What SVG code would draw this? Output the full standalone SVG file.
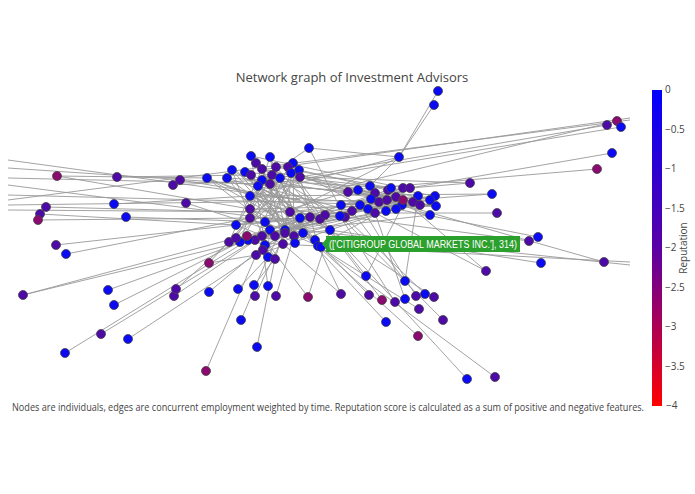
<svg xmlns="http://www.w3.org/2000/svg" width="695" height="494" viewBox="0 0 695 494">
<defs>
<linearGradient id="cb" x1="0" y1="0" x2="0" y2="1"><stop offset="0" stop-color="#0000ff"/><stop offset="0.5" stop-color="#5a00a5"/><stop offset="1" stop-color="#ff0000"/></linearGradient>
</defs>
<style>
.e{stroke:#999;stroke-width:0.9;fill:none}
.b{fill:#0a0af5;stroke:#444;stroke-width:0.8}
.p{fill:#4e0aa8;stroke:#444;stroke-width:0.8}
.m{fill:#8a0a70;stroke:#444;stroke-width:0.8}
text{font-family:"Open Sans","Liberation Sans",sans-serif}
.t{font-size:10px;fill:#444}
.h{font-family:"Liberation Sans",Arial,sans-serif;font-size:10px;fill:#fff}
</style>
<rect width="695" height="494" fill="#fff"/>
<text x="352" y="82" text-anchor="middle" font-size="13" fill="#444">Network graph of Investment Advisors</text>
<g id="edges" class="e">
<path d="M438 91L399 157M434 105L399 157M399 157L309 148M399 157L290 212M399 157L370 186M399 157L250 196M607 125L300 177M617 121L330 190M621 127L258 186M630 120L8 200M630 118L260 170M612 153L410 188M597 169L350 190M630 265L300 230M630 262L240 242M604 262L403 205M8 160L300 200M8 168L410 195M8 205L390 200M8 210L290 212M8 178L270 184M8 195L436 206M8 185L280 220M57 176L250 209M57 176L207 178M117 177L251 175M46 207L245 212M40 214L236 225M38 220L250 218M114 204L250 196M126 217L265 222M56 245L236 225M66 254L250 218M173 185L262 180M180 180L300 200M186 203L270 230M470 183L300 177M470 183L410 188M492 194L340 205M492 194L250 196M497 213L375 213M430 215L300 230M430 215L387 200M538 237L396 209M529 241L340 216M541 263L330 230M486 271L360 205M486 271L403 200M209 263L250 218M209 263L256 255M23 295L236 238M23 295L250 240M108 290L248 240M114 305L240 242M174 296L262 236M176 289L229 242M209 292L265 245M238 289L268 257M254 285L275 259M268 286L263 250M255 296L285 233M276 296L294 236M308 297L262 236M308 297L330 230M341 294L283 244M341 294L318 246M101 334L255 240M128 339L263 250M65 353L248 240M241 320L268 257M257 347L275 259M206 371L256 255M366 276L330 230M366 276L403 205M369 295L315 240M382 300L320 219M386 322L300 230M395 302L340 216M405 281L418 196M405 281L352 211M405 299L375 213M416 296L360 205M425 294L345 217M434 297L330 230M419 309L318 246M443 320L340 216M418 336L303 233M467 379L330 230M495 377L318 246M309 148L262 180M309 148L345 217M234 168L300 240M207 178L300 230M232 170L330 230M227 178L315 240"/>
<path d="M251 156L320 219M270 157L285 230M293 163L250 218M256 163L303 233M262 169L340 216M276 167L236 225M288 167L325 215M299 170L229 242M245 172L294 236M251 175L345 217M262 180L318 246M272 175L268 257M280 178L240 242M291 173L256 255M300 177L236 238M258 186L330 230M270 184L283 244M250 196L330 230M250 209L345 217M236 225L340 216M250 218L320 219M265 222L318 246M270 230L310 217M285 230L248 240M290 212L275 259M300 218L256 255M310 217L263 250M320 219L248 240M325 215L265 245M330 230L255 240M345 217L240 242M255 240L340 216M262 236L325 215M275 236L300 218"/>
<path d="M251 156L265 245M270 157L240 242M293 163L283 244M256 163L318 246M245 172L303 233M232 170L285 230M227 178L345 217M207 178L320 219M262 169L229 242M288 167L255 240M276 167L330 230M299 170L262 236M251 175L295 243M272 175L236 238M258 186L310 217M250 196L294 236M250 209L315 240M236 225L325 215M229 242L345 217M240 242L300 218M248 240L320 219M256 255L330 230M268 257L290 212M275 259L250 209M263 250L303 233M283 244L236 225M295 243L250 218M318 246L262 180M315 240L251 156M303 233L270 157M294 236L293 163M285 233L245 172M207 178L290 212M207 178L265 222M227 178L270 230M232 170L250 218M300 177L318 246M291 173L330 230M280 178L303 233"/>
<path d="M250 196L436 206M262 180L420 205M270 184L396 197M290 212L418 196M300 218L403 188M310 217L435 196M320 219L413 202M325 215L430 200M330 230L386 211M345 217L410 188M300 177L402 205M291 173L375 193M280 178L436 206M299 170L370 186M258 186L352 211M265 222L368 209M285 230L379 202M245 172L391 188M303 233L396 209M318 246L403 200M236 225L348 192M229 242L388 190M250 209L420 205M288 167L360 205M276 167L435 196M348 192L436 206M358 190L420 205M370 186L430 200M341 205L435 196M340 216L418 196M352 211L410 188M360 205L403 188M371 199L436 206M368 209L430 200M375 213L396 197M386 211L418 196M262 169L413 202M251 156L403 188M227 178L391 188M236 238L375 213M248 240L396 209M270 230L410 188M290 212L436 206"/>
</g>
<g id="nodes">
<g id="n-outer">
<circle class="b" cx="438" cy="91" r="4.5"/><circle class="b" cx="434" cy="105" r="4.5"/><circle class="b" cx="399" cy="157" r="4.5"/><circle class="p" cx="607" cy="125" r="4.5"/><circle class="m" cx="617" cy="121" r="4.5"/><circle class="b" cx="621" cy="127" r="4.5"/><circle class="b" cx="612" cy="153" r="4.5"/><circle class="m" cx="597" cy="169" r="4.5"/><circle class="m" cx="57" cy="176" r="4.5"/><circle class="p" cx="117" cy="177" r="4.5"/><circle class="p" cx="46" cy="207" r="4.5"/><circle class="p" cx="40" cy="214" r="4.5"/><circle class="m" cx="38" cy="220" r="4.5"/><circle class="b" cx="114" cy="204" r="4.5"/><circle class="b" cx="126" cy="217" r="4.5"/><circle class="p" cx="56" cy="245" r="4.5"/><circle class="b" cx="66" cy="254" r="4.5"/><circle class="p" cx="173" cy="185" r="4.5"/><circle class="p" cx="180" cy="180" r="4.5"/><circle class="p" cx="186" cy="203" r="4.5"/><circle class="p" cx="470" cy="183" r="4.5"/><circle class="b" cx="492" cy="194" r="4.5"/><circle class="p" cx="497" cy="213" r="4.5"/><circle class="b" cx="430" cy="215" r="4.5"/><circle class="b" cx="538" cy="237" r="4.5"/><circle class="p" cx="529" cy="241" r="4.5"/><circle class="b" cx="541" cy="263" r="4.5"/><circle class="p" cx="486" cy="271" r="4.5"/><circle class="p" cx="604" cy="262" r="4.5"/><circle class="m" cx="209" cy="263" r="4.5"/><circle class="p" cx="23" cy="295" r="4.5"/><circle class="b" cx="108" cy="290" r="4.5"/><circle class="b" cx="114" cy="305" r="4.5"/><circle class="p" cx="174" cy="296" r="4.5"/><circle class="p" cx="176" cy="289" r="4.5"/><circle class="b" cx="209" cy="292" r="4.5"/><circle class="b" cx="238" cy="289" r="4.5"/><circle class="b" cx="254" cy="285" r="4.5"/><circle class="b" cx="268" cy="286" r="4.5"/><circle class="p" cx="255" cy="296" r="4.5"/><circle class="p" cx="276" cy="296" r="4.5"/><circle class="m" cx="308" cy="297" r="4.5"/><circle class="p" cx="341" cy="294" r="4.5"/><circle class="p" cx="101" cy="334" r="4.5"/><circle class="b" cx="128" cy="339" r="4.5"/><circle class="b" cx="65" cy="353" r="4.5"/><circle class="b" cx="241" cy="320" r="4.5"/><circle class="b" cx="257" cy="347" r="4.5"/><circle class="m" cx="206" cy="371" r="4.5"/><circle class="b" cx="366" cy="276" r="4.5"/><circle class="p" cx="369" cy="295" r="4.5"/><circle class="m" cx="382" cy="300" r="4.5"/><circle class="b" cx="386" cy="322" r="4.5"/><circle class="p" cx="395" cy="302" r="4.5"/><circle class="b" cx="405" cy="281" r="4.5"/><circle class="b" cx="405" cy="299" r="4.5"/><circle class="p" cx="416" cy="296" r="4.5"/><circle class="b" cx="425" cy="294" r="4.5"/><circle class="p" cx="434" cy="297" r="4.5"/><circle class="p" cx="419" cy="309" r="4.5"/><circle class="p" cx="443" cy="320" r="4.5"/><circle class="m" cx="418" cy="336" r="4.5"/><circle class="b" cx="467" cy="379" r="4.5"/><circle class="p" cx="495" cy="377" r="4.5"/><circle class="b" cx="309" cy="148" r="4.5"/>
</g>
<g id="n-left">
<circle class="b" cx="251" cy="156" r="4.5"/><circle class="b" cx="270" cy="157" r="4.5"/><circle class="b" cx="293" cy="163" r="4.5"/><circle class="p" cx="256" cy="163" r="4.5"/><circle class="p" cx="262" cy="169" r="4.5"/><circle class="p" cx="276" cy="167" r="4.5"/><circle class="p" cx="288" cy="167" r="4.5"/><circle class="b" cx="299" cy="170" r="4.5"/><circle class="b" cx="245" cy="172" r="4.5"/><circle class="p" cx="251" cy="175" r="4.5"/><circle class="b" cx="262" cy="180" r="4.5"/><circle class="p" cx="272" cy="175" r="4.5"/><circle class="b" cx="280" cy="178" r="4.5"/><circle class="b" cx="291" cy="173" r="4.5"/><circle class="p" cx="300" cy="177" r="4.5"/><circle class="b" cx="258" cy="186" r="4.5"/><circle class="p" cx="270" cy="184" r="4.5"/><circle class="b" cx="232" cy="170" r="4.5"/><circle class="b" cx="227" cy="178" r="4.5"/><circle class="b" cx="207" cy="178" r="4.5"/>
<circle class="b" cx="250" cy="196" r="4.5"/><circle class="p" cx="250" cy="209" r="4.5"/><circle class="b" cx="236" cy="225" r="4.5"/><circle class="p" cx="250" cy="218" r="4.5"/><circle class="b" cx="265" cy="222" r="4.5"/><circle class="b" cx="270" cy="230" r="4.5"/><circle class="b" cx="285" cy="230" r="4.5"/><circle class="p" cx="290" cy="212" r="4.5"/><circle class="b" cx="300" cy="218" r="4.5"/><circle class="p" cx="310" cy="217" r="4.5"/><circle class="p" cx="320" cy="219" r="4.5"/><circle class="p" cx="325" cy="215" r="4.5"/><circle class="b" cx="330" cy="230" r="4.5"/><circle class="p" cx="345" cy="217" r="4.5"/><circle class="p" cx="255" cy="240" r="4.5"/><circle class="p" cx="262" cy="236" r="4.5"/><circle class="p" cx="275" cy="236" r="4.5"/><circle class="p" cx="285" cy="233" r="4.5"/><circle class="p" cx="294" cy="236" r="4.5"/><circle class="b" cx="303" cy="233" r="4.5"/><circle class="b" cx="315" cy="240" r="4.5"/><circle class="b" cx="248" cy="240" r="4.5"/><circle class="b" cx="240" cy="242" r="4.5"/><circle class="p" cx="229" cy="242" r="4.5"/><circle class="p" cx="236" cy="238" r="4.5"/><circle class="b" cx="265" cy="245" r="4.5"/><circle class="p" cx="283" cy="244" r="4.5"/><circle class="b" cx="295" cy="243" r="4.5"/><circle class="b" cx="318" cy="246" r="4.5"/><circle class="p" cx="256" cy="255" r="4.5"/><circle class="b" cx="268" cy="257" r="4.5"/><circle class="p" cx="275" cy="259" r="4.5"/><circle class="p" cx="263" cy="250" r="4.5"/><circle class="m" cx="247" cy="236" r="4.5"/>
</g>
<g id="n-right">
<circle class="b" cx="370" cy="186" r="4.5"/><circle class="p" cx="348" cy="192" r="4.5"/><circle class="b" cx="358" cy="190" r="4.5"/><circle class="p" cx="375" cy="193" r="4.5"/><circle class="p" cx="388" cy="190" r="4.5"/><circle class="b" cx="391" cy="188" r="4.5"/><circle class="p" cx="403" cy="188" r="4.5"/><circle class="p" cx="410" cy="188" r="4.5"/><circle class="b" cx="418" cy="196" r="4.5"/><circle class="b" cx="435" cy="196" r="4.5"/><circle class="b" cx="430" cy="200" r="4.5"/><circle class="b" cx="360" cy="205" r="4.5"/><circle class="b" cx="371" cy="199" r="4.5"/><circle class="p" cx="379" cy="202" r="4.5"/><circle class="p" cx="387" cy="200" r="4.5"/><circle class="p" cx="396" cy="197" r="4.5"/><circle class="b" cx="402" cy="205" r="4.5"/><circle class="p" cx="413" cy="202" r="4.5"/><circle class="p" cx="352" cy="211" r="4.5"/><circle class="b" cx="368" cy="209" r="4.5"/><circle class="p" cx="375" cy="213" r="4.5"/><circle class="b" cx="386" cy="211" r="4.5"/><circle class="b" cx="396" cy="209" r="4.5"/><circle class="m" cx="403" cy="200" r="4.5"/><circle class="p" cx="420" cy="205" r="4.5"/><circle class="b" cx="436" cy="206" r="4.5"/><circle class="b" cx="341" cy="205" r="4.5"/><circle class="b" cx="340" cy="216" r="4.5"/>
</g>
<g id="hover">
<circle class="b" cx="321" cy="247" r="4.5"/>
<path d="M322 244L326 239V236H520V252H326V249Z" fill="#2ca02c"/>
<text x="423" y="248" text-anchor="middle" class="h" textLength="188" lengthAdjust="spacingAndGlyphs">(['CITIGROUP GLOBAL MARKETS INC.'], 314)</text>
</g>
</g>
<g id="colorbar">
<rect x="652" y="90" width="10" height="316" fill="url(#cb)"/>
<g class="t">
<text x="665" y="93">0</text><text x="665" y="133">−0.5</text><text x="665" y="172">−1</text><text x="665" y="212">−1.5</text><text x="665" y="251">−2</text><text x="665" y="291">−2.5</text><text x="665" y="330">−3</text><text x="665" y="370">−3.5</text><text x="666" y="409">−4</text>
</g>
<text transform="translate(687 248) rotate(-90)" text-anchor="middle" class="t">Reputation</text>
</g>
<text x="12" y="411" class="t" textLength="632" lengthAdjust="spacingAndGlyphs">Nodes are individuals, edges are concurrent employment weighted by time. Reputation score is calculated as a sum of positive and negative features.</text>
</svg>
